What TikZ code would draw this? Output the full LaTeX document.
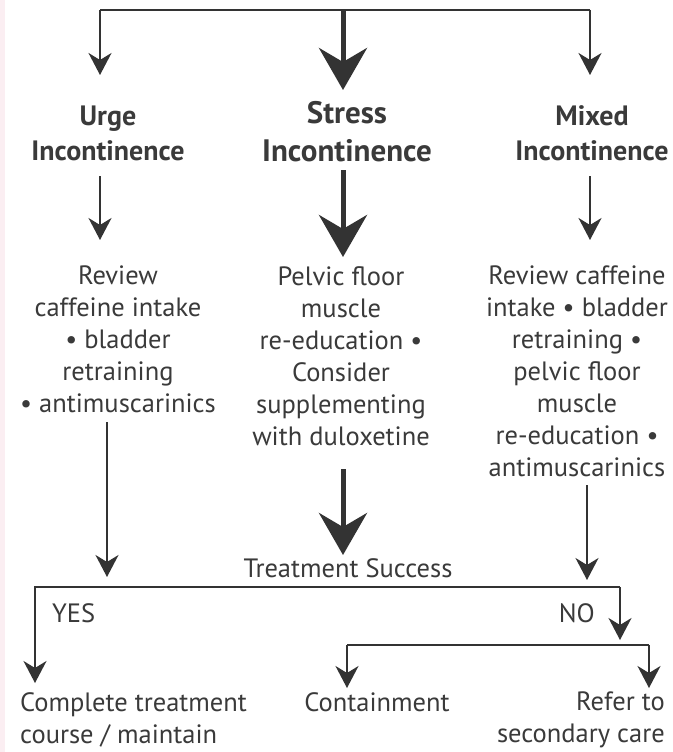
\documentclass[tikz,border=0pt]{standalone}
\usepackage{fontspec}
\setmainfont{PT Sans}
\usetikzlibrary{arrows.meta}
\definecolor{ink}{HTML}{333333}
\definecolor{txt}{HTML}{3A3A3A}
\definecolor{strip}{HTML}{FBEEF2}
\begin{document}
\begin{tikzpicture}[x=1pt,y=-1pt,
  conn/.style={draw=ink,line width=2pt},
  thinarr/.style={draw=ink,line width=2pt,-{Stealth[length=22pt,width=23pt,inset=7pt]}},
  thickarr/.style={draw=ink,line width=5pt,-{Stealth[length=42pt,width=48pt,inset=14pt]}},
  body/.style={text=txt,font=\fontsize{26.5}{32}\selectfont,align=center,inner sep=0pt},
  head/.style={text=txt,font=\fontsize{28}{35}\selectfont\bfseries,align=center,inner sep=0pt},
  bighead/.style={text=txt,font=\fontsize{31}{38}\selectfont\bfseries,align=center,inner sep=0pt}]
\useasboundingbox (0,0) rectangle (672,752);
\fill[white] (0,0) rectangle (672,752);
\fill[strip] (0,0) rectangle (5,752);
% headers
\node[head] (urge) at (108,133) {Urge\\Incontinence};
\node[bighead] (stress) at (347,132) {Stress\\Incontinence};
\node[head] (mixed) at (592,133) {Mixed\\Incontinence};
% treatments
\node[body,anchor=north] (urgeT) at (118,266) {Review\\caffeine intake\\• bladder\\retraining\\• antimuscarinics};
\node[body,anchor=north] (stressT) at (341,266) {Pelvic floor\\muscle\\re-education •\\Consider\\supplementing\\with duloxetine};
\node[body,anchor=north] (mixedT) at (577,266) {Review caffeine\\intake • bladder\\retraining •\\pelvic floor\\muscle\\re-education •\\antimuscarinics};
% outcome
\node[body] (ts) at (348,568) {Treatment Success};
\node[body,anchor=west] (yes) at (52,613) {YES};
\node[body,anchor=east] (no) at (595,613) {NO};
\node[body,anchor=north west,align=left] (complete) at (20,692) {Complete treatment\\course / maintain};
\node[body,anchor=north] (contain) at (377,692) {Containment};
\node[body,anchor=north east,align=right] (refer) at (665,692) {Refer to\\secondary care};
% coordinates
\coordinate (jL) at (100,10);
\coordinate (jC) at (343,10);
\coordinate (jR) at (590,10);
\coordinate (aL) at (100,75);
\coordinate (aC) at (343,90);
\coordinate (aR) at (590,75);
\coordinate (bL0) at (100,176);
\coordinate (bL1) at (100,240);
\coordinate (bC0) at (343,170);
\coordinate (bC1) at (343,257);
\coordinate (bR0) at (590,176);
\coordinate (bR1) at (590,240);
\coordinate (cL0) at (107,422);
\coordinate (cL1) at (107,577);
\coordinate (cC0) at (343,469);
\coordinate (cC1) at (343,555);
\coordinate (cR0) at (587,485);
\coordinate (cR1) at (587,580);
\coordinate (mL) at (35,587);
\coordinate (mR) at (620,587);
\coordinate (yesT) at (35,683);
\coordinate (noT) at (620,640);
\coordinate (sL) at (347,645);
\coordinate (sR) at (649,645);
\coordinate (sLT) at (347,688);
\coordinate (sRT) at (649,688);
% connectors
\draw[conn] (jL) -- (jR);
\draw[thinarr] (jL) -- (aL);
\draw[thickarr] (jC) -- (aC);
\draw[thinarr] (jR) -- (aR);
\draw[thinarr] (bL0) -- (bL1);
\draw[thickarr] (bC0) -- (bC1);
\draw[thinarr] (bR0) -- (bR1);
\draw[thinarr] (cL0) -- (cL1);
\draw[thickarr] (cC0) -- (cC1);
\draw[thinarr] (cR0) -- (cR1);
\draw[thinarr] (mR) -- (mL) -- (yesT);
\draw[thinarr] (mR) -- (noT);
\draw[conn] (sL) -- (sR);
\draw[thinarr] (sL) -- (sLT);
\draw[thinarr] (sR) -- (sRT);
\end{tikzpicture}
\end{document}
